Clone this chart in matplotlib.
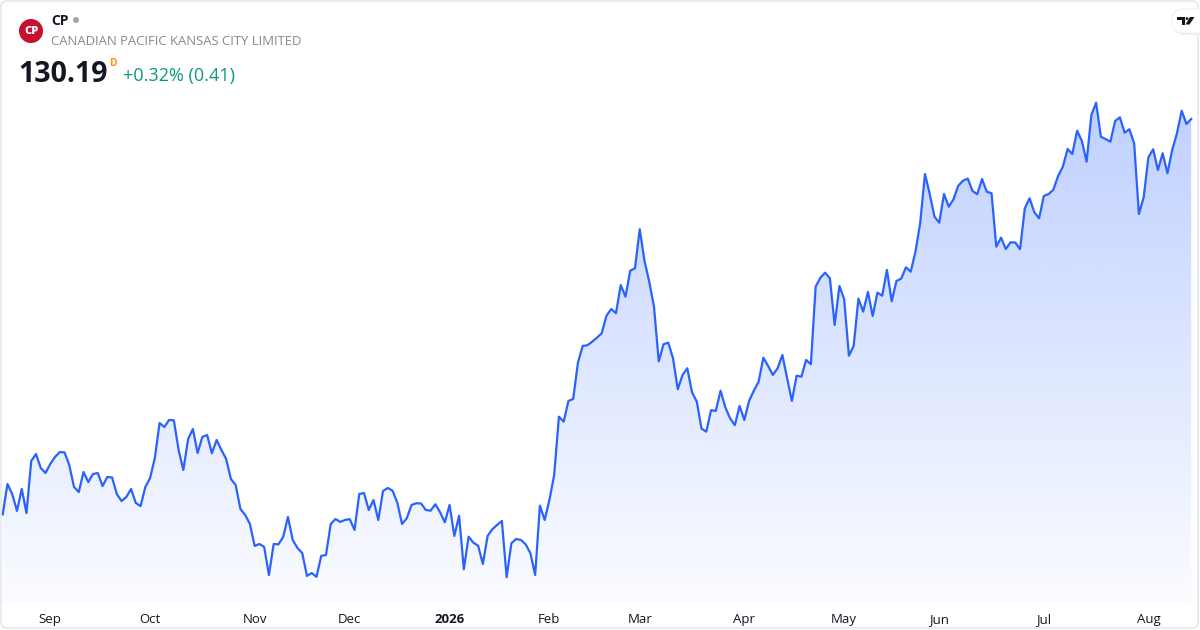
import numpy as np
import matplotlib.pyplot as plt
from matplotlib.patches import FancyBboxPatch, Circle, Polygon
from matplotlib.transforms import IdentityTransform

plt.rcParams['font.family'] = ['Open Sans', 'DejaVu Sans']

# ---- data: daily closes (TSX trading days, 2025-08-18 .. 2026-08-17) ----
CLOSE = [
    97.77, 100.26, 99.44, 98.05, 99.85, 97.88, 102.15, 102.72, 101.57, 101.16,
    101.90, 102.47, 102.88, 102.85, 101.82, 100.01, 99.60, 101.24, 100.42, 101.08,
    101.16, 100.09, 100.83, 100.80, 99.44, 98.86, 99.19, 99.85, 98.70, 98.45,
    100.01, 100.75, 102.39, 105.26, 104.93, 105.51, 105.48, 103.05, 101.41, 103.95,
    104.77, 102.80, 104.12, 104.28, 102.78, 103.87, 103.05, 102.31, 100.67, 100.18,
    98.21, 97.72, 96.98, 95.18, 95.34, 95.10, 92.80, 95.34, 95.31, 95.92,
    97.56, 95.67, 95.01, 94.60, 92.72, 92.96, 92.64, 94.36, 94.44, 96.98,
    97.39, 97.15, 97.31, 97.38, 96.49, 99.44, 99.52, 98.13, 98.95, 97.31,
    99.69, 99.93, 99.71, 98.73, 96.98, 97.45, 98.54, 98.68, 98.66, 98.13,
    98.07, 98.60, 97.94, 97.12, 98.54, 96.00, 97.66, 93.27, 95.94, 95.45,
    95.20, 93.70, 96.00, 96.55, 96.90, 97.23, 92.61, 95.40, 95.75, 95.67,
    95.32, 94.58, 92.80, 98.48, 97.31, 98.95, 101.00, 105.78, 105.37, 107.07,
    107.23, 110.21, 111.58, 111.64, 111.93, 112.26, 112.62, 114.06, 114.61, 114.26,
    116.58, 115.62, 117.75, 117.95, 121.15, 118.55, 116.85, 114.80, 110.32, 111.72,
    111.85, 110.57, 108.03, 109.20, 109.75, 107.78, 107.01, 104.80, 104.55, 106.31,
    106.25, 107.91, 106.55, 105.65, 105.08, 106.66, 105.51, 107.07, 107.91, 108.65,
    110.62, 109.94, 109.20, 109.75, 110.84, 108.93, 107.07, 109.14, 109.06, 110.43,
    110.08, 116.44, 117.18, 117.59, 117.13, 113.30, 116.50, 115.41, 110.78, 111.58,
    115.46, 114.39, 116.01, 114.04, 115.95, 115.70, 117.81, 115.24, 116.91, 117.10,
    118.03, 117.67, 119.31, 121.69, 125.68, 124.04, 122.18, 121.69, 124.04, 123.00,
    123.61, 124.72, 125.13, 125.30, 124.29, 124.02, 125.27, 124.23, 124.10, 119.72,
    120.46, 119.53, 120.08, 120.06, 119.51, 122.87, 123.69, 122.54, 122.05, 123.88,
    124.04, 124.39, 125.52, 126.28, 127.73, 127.32, 129.23, 128.39, 126.69, 130.52,
    131.53, 128.74, 128.55, 128.33, 130.03, 130.33, 129.07, 129.35, 128.20, 122.40,
    123.77, 127.05, 127.71, 126.01, 127.38, 125.74, 127.65, 129.02, 130.87, 129.78,
    130.19,
]
# first trading day of each month (index into CLOSE)
MONTH_IDX = [10, 31, 53, 73, 94, 115, 134, 156, 177, 197, 219, 241]
MONTH_LBL = ['Sep', 'Oct', 'Nov', 'Dec', '2026', 'Feb', 'Mar', 'Apr', 'May', 'Jun', 'Jul', 'Aug']

TICKER = 'CP'
NAME = 'CANADIAN PACIFIC KANSAS CITY LIMITED'
LAST = CLOSE[-1]
CHG = LAST - CLOSE[-2]
CHG_PCT = CHG / CLOSE[-2] * 100

LINE_C = '#2962ff'
W, H = 1200, 630
PX = IdentityTransform()  # display pixels, origin bottom-left


def fx(x):
    return x / W


def fy(y):
    return 1 - y / H


def p(x, y):
    # top-left pixel coords -> display coords
    return (x, H - y)


fig = plt.figure(figsize=(12, 6.3), dpi=100)
fig.patch.set_facecolor('white')

# card border
fig.patches.append(FancyBboxPatch(p(1, 628), 1197, 627,
                                  boxstyle='round,pad=0,rounding_size=6',
                                  transform=PX, facecolor='none',
                                  edgecolor='#e0e3eb', lw=1.0, zorder=0))

ax = fig.add_axes([fx(1), fy(603), fx(1198), 603 / H])
ax.set_facecolor('none')
x = np.arange(len(CLOSE))
y = np.array(CLOSE)
y_bot, y_top = 90.50, 139.95
ax.set_xlim(-0.36, 251.64)
ax.set_ylim(y_bot, y_top)

# gradient area
poly = ax.fill_between(x, y, y_bot, facecolor='none', edgecolor='none')
grad = np.zeros((256, 1, 4))
grad[:, 0, 0] = 41 / 255
grad[:, 0, 1] = 98 / 255
grad[:, 0, 2] = 1.0
grad[:, 0, 3] = np.linspace(0.02, 0.30, 256)
im = ax.imshow(grad, extent=[x[0], x[-1], y_bot, y.max()], aspect='auto',
               origin='lower', interpolation='bicubic', zorder=1)
im.set_clip_path(poly.get_paths()[0], transform=ax.transData)
ax.plot(x, y, color=LINE_C, lw=1.6, solid_joinstyle='round', zorder=3)

for s in ax.spines.values():
    s.set_visible(False)
ax.set_yticks([])
ax.set_xticks(MONTH_IDX)
ax.set_xticklabels(MONTH_LBL, fontsize=9.5, color='#131722')
ax.tick_params(axis='x', length=0, pad=7)
for t in ax.get_xticklabels():
    if t.get_text() == '2026':
        t.set_fontweight('bold')

# header: logo
fig.patches.append(Circle(p(31, 31), 12, transform=PX,
                          facecolor='#c8102e', edgecolor='none'))
fig.text(fx(31.5), fy(31.5), 'CP', fontsize=8, fontweight='heavy', color='white',
         ha='center', va='center')
fig.text(fx(51), fy(25), TICKER, fontsize=10, fontweight='bold', color='#131722',
         ha='left', va='baseline')
fig.patches.append(Circle(p(76, 20), 3, transform=PX,
                          facecolor='#a3a6af', edgecolor='none'))
fig.text(fx(51), fy(45), NAME, fontsize=9.45, color='#868993',
         ha='left', va='baseline')
fig.text(fx(18), fy(82), f'{LAST:.2f}', fontsize=20.5, fontweight='bold',
         color='#131722', ha='left', va='baseline')
fig.text(fx(109), fy(66), 'D', fontsize=7.5, fontweight='bold', color='#ff9800',
         ha='left', va='baseline')
fig.text(fx(123), fy(81), f'+{CHG_PCT:.2f}% ({CHG:.2f})', fontsize=13,
         color='#089981', ha='left', va='baseline')

# TradingView badge
fig.patches.append(FancyBboxPatch(p(1173, 35), 40, 25,
                                  boxstyle='round,pad=0,rounding_size=11',
                                  transform=PX, facecolor='#f0f1f3',
                                  edgecolor='none', zorder=2))
fig.patches.append(FancyBboxPatch(p(1172, 33), 40, 24,
                                  boxstyle='round,pad=0,rounding_size=11',
                                  transform=PX, facecolor='white',
                                  edgecolor='#ebecef', lw=0.6, zorder=2))
fig.patches.append(Polygon([p(1177, 17), p(1185, 17), p(1185, 24.5),
                            p(1181.5, 24.5), p(1181.5, 20), p(1177, 20)],
                           closed=True, transform=PX,
                           facecolor='#131722', edgecolor='none', zorder=3))
fig.patches.append(Circle(p(1187, 18.6), 1.4, transform=PX,
                          facecolor='#131722', edgecolor='none', zorder=3))
fig.patches.append(Polygon([p(1190, 17), p(1194.5, 17), p(1189.5, 24.5),
                            p(1185.5, 24.5)],
                           closed=True, transform=PX,
                           facecolor='#131722', edgecolor='none', zorder=3))

fig.savefig('out.png', dpi=100, facecolor='white')
